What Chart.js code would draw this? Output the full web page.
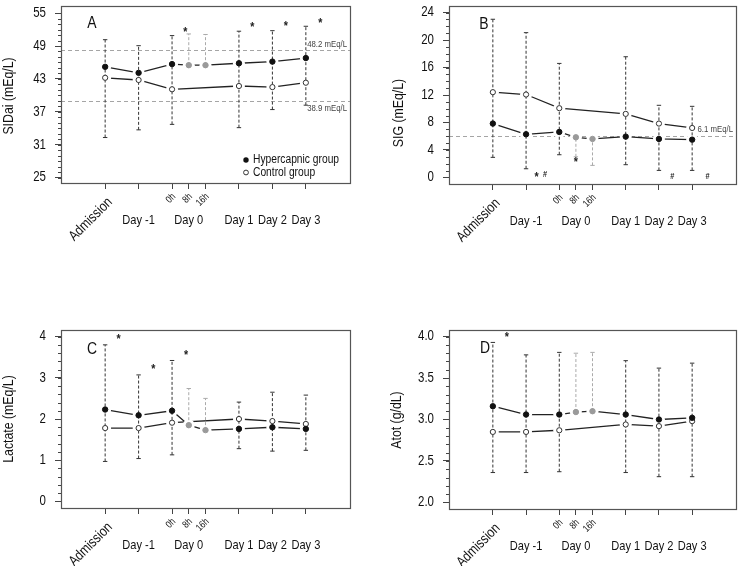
<!DOCTYPE html>
<html>
<head>
<meta charset="utf-8">
<script src="https://cdn.jsdelivr.net/npm/chart.js@4.4.1/dist/chart.umd.min.js"></script>
<style>
  html, body { margin: 0; padding: 0; background: #fff; }
  #wrap { position: relative; width: 742px; height: 566px; background: #fff; }
  #wrap canvas { position: absolute; }
</style>
</head>
<body>
<div id="wrap">
  <canvas id="cA" width="371" height="283" style="left:0;top:0;width:371px;height:283px"></canvas>
  <canvas id="cB" width="371" height="283" style="left:371px;top:0;width:371px;height:283px"></canvas>
  <canvas id="cC" width="371" height="283" style="left:0;top:283px;width:371px;height:283px"></canvas>
  <canvas id="cD" width="371" height="283" style="left:371px;top:283px;width:371px;height:283px"></canvas>
</div>
<script>
// ── time points (shared by all four panels) ──────────────────────────────
const timeX = [0, 1, 2, 2.5, 3, 4, 5, 6];
const dayLabels = ['Day -1', 'Day 0', 'Day 1', 'Day 2', 'Day 3'];
const dayLabelX = [1, 2.5, 4, 5, 6];
const hourLabels = ['0h', '8h', '16h'];
const hourX = [2, 2.5, 3];
const grayIdx = [3, 4];          // 8h and 16h samples
const darkIdx = [0, 1, 2, 5, 6, 7];

// ── A: SIDai ─────────────────────────────────────────────────────────────
const hyperA = [45.2, 44.1, 45.7, 45.5, 45.5, 45.85, 46.15, 46.8];
const ctrlA  = [43.2, 42.8, 41.1, null, null, 41.7, 41.5, 42.3];
const lowA   = [32.3, 33.7, 34.7, 45.5, 45.5, 34.1, 37.4, 38.2];
const highA  = [50.15, 49.06, 50.9, 51.2, 51.1, 51.7, 51.8, 52.6];
const refA   = [48.2, 38.9];
const ticksA = [25, 31, 37, 43, 49, 55];
const starXA = [2.4, 4.4, 5.4, 6.43];
const starYA = [52.0, 52.9, 53.0, 53.5];

// ── B: SIG ───────────────────────────────────────────────────────────────
const hyperB = [7.84, 6.28, 6.62, 5.84, 5.6, 5.94, 5.6, 5.5];
const ctrlB  = [12.41, 12.07, 10.08, null, null, 9.25, 7.84, 7.2];
const lowB   = [2.92, 1.26, 3.3, 3.0, 1.75, 1.85, 1.02, 1.02];
const highB  = [23.03, 21.08, 16.6, 5.84, 5.6, 17.57, 10.5, 10.35];
const refB   = [6.1];
const ticksB = [0, 4, 8, 12, 16, 20, 24];
const starXB = [1.32, 2.5];
const starYB = [0.39, 2.55];
const hashXB = [1.57, 5.4, 6.46];
const hashYB = [0.39, 0.14, 0.14];

// ── C: Lactate ───────────────────────────────────────────────────────────
const hyperC = [2.23, 2.09, 2.2, 1.85, 1.73, 1.76, 1.8, 1.76];
const ctrlC  = [1.78, 1.78, 1.91, null, null, 2.0, 1.95, 1.88];
const lowC   = [0.97, 1.04, 1.13, 1.85, 1.73, 1.28, 1.22, 1.24];
const highC  = [3.8, 3.07, 3.42, 2.74, 2.5, 2.41, 2.65, 2.58];
const ticksC = [0, 1, 2, 3, 4];
const starXC = [0.4, 1.44, 2.42];
const starYC = [4.0, 3.26, 3.6];

// ── D: Atot ──────────────────────────────────────────────────────────────
const hyperD = [3.16, 3.06, 3.06, 3.09, 3.1, 3.06, 3.0, 3.02];
const ctrlD  = [2.85, 2.85, 2.87, null, null, 2.94, 2.92, 2.98];
const lowD   = [2.36, 2.36, 2.37, 3.09, 3.1, 2.36, 2.31, 2.31];
const highD  = [3.93, 3.78, 3.81, 3.8, 3.81, 3.71, 3.62, 3.68];
const ticksD = [2.0, 2.5, 3.0, 3.5, 4.0];
const starXD = [0.42];
const starYD = [4.02];

// no narrow face installed, so squeeze Liberation Sans to Arial Narrow width
const FONT = '"Liberation Sans", Arial, sans-serif';
const SQUEEZE = 0.82;
const INK = '#111';

function pts(vals) {
    return vals.map((v, i) => ({ x: timeX[i], y: v }));
}

function whiskerPts(lo, hi, idx) {
    const out = [];
    idx.forEach(i => {
        out.push({ x: timeX[i], y: lo[i] }, { x: timeX[i], y: hi[i] }, { x: timeX[i], y: null });
    });
    return out;
}

function narrowText(ctx, text, x, y, size, align, angle, weight) {
    ctx.save();
    ctx.translate(x, y);
    if (angle) ctx.rotate(angle);
    ctx.scale(SQUEEZE, 1);
    ctx.font = `${weight || ''} ${size}px ${FONT}`;
    ctx.textAlign = align || 'center';
    ctx.textBaseline = 'middle';
    ctx.fillText(text, 0, 0);
    ctx.restore();
}

function decoPlugin(cfg) {
    return {
        id: 'deco',
        beforeDatasetsDraw(chart) {
            const { ctx, chartArea: a, scales: { y } } = chart;
            ctx.save();
            ctx.strokeStyle = '#a5a5a5';
            ctx.lineWidth = 1;
            ctx.setLineDash([4, 3]);
            (cfg.refs || []).forEach(v => {
                const py = Math.round(y.getPixelForValue(v)) + 0.5;
                ctx.beginPath();
                ctx.moveTo(a.left, py);
                ctx.lineTo(a.right, py);
                ctx.stroke();
            });
            ctx.restore();
        },
        afterDraw(chart) {
            const { ctx, chartArea: a, scales: { x, y } } = chart;
            ctx.save();

            // box
            ctx.strokeStyle = '#555';
            ctx.lineWidth = 1.2;
            ctx.strokeRect(Math.round(a.left) + 0.5, Math.round(a.top) + 0.5,
                Math.round(a.right - a.left), Math.round(a.bottom - a.top));

            // minor y ticks
            ctx.strokeStyle = '#444';
            ctx.lineWidth = 1;
            const lo = cfg.ticks[0], hi = cfg.ticks[cfg.ticks.length - 1];
            for (let v = lo; v <= hi + 1e-9; v += cfg.minor) {
                const py = Math.round(y.getPixelForValue(v)) + 0.5;
                ctx.beginPath();
                ctx.moveTo(a.left - 3, py);
                ctx.lineTo(a.left, py);
                ctx.stroke();
            }

            ctx.fillStyle = INK;
            // y tick labels from the scale's own ticks
            y.ticks.forEach(t => {
                const s = cfg.decimals ? Number(t.value).toFixed(cfg.decimals) : String(t.value);
                narrowText(ctx, s, a.left - 15, y.getPixelForValue(t.value), 14, 'right');
            });

            const b = a.bottom;
            narrowText(ctx, 'Admission', x.getPixelForValue(0) + 5, b + 17, 14.5, 'right', -Math.PI / 4);
            hourLabels.forEach((t, i) =>
                narrowText(ctx, t, x.getPixelForValue(hourX[i]) + 2, b + 12, 10, 'right', -Math.PI / 4));
            dayLabels.forEach((t, i) =>
                narrowText(ctx, t, x.getPixelForValue(dayLabelX[i]), b + 37, 13.5, 'center'));

            narrowText(ctx, cfg.title, cfg.titlePos[0], cfg.titlePos[1], 15, 'center', -Math.PI / 2);
            narrowText(ctx, cfg.letter, cfg.letterPos[0], cfg.letterPos[1], 17, 'center');

            // reference labels
            ctx.fillStyle = '#444';
            (cfg.refs || []).forEach((v, i) => {
                const off = cfg.refSide[i] === 'above' ? -6.5 : 7.5;
                narrowText(ctx, cfg.refLabels[i], a.right - 3, y.getPixelForValue(v) + off, 9.5, 'right');
            });

            // significance marks
            ctx.fillStyle = '#222';
            (cfg.starX || []).forEach((sx, i) =>
                narrowText(ctx, '*', x.getPixelForValue(sx), y.getPixelForValue(cfg.starY[i]) + 2.5, 13, 'center', 0, 'bold'));
            (cfg.hashX || []).forEach((sx, i) =>
                narrowText(ctx, '#', x.getPixelForValue(sx), y.getPixelForValue(cfg.hashY[i]), 9, 'center', 0, 'bold'));

            // legend
            if (cfg.legend) {
                const [lx, ly] = cfg.legend;
                ctx.beginPath();
                ctx.arc(lx, ly, 2.7, 0, Math.PI * 2);
                ctx.fillStyle = '#111';
                ctx.fill();
                ctx.beginPath();
                ctx.arc(lx, ly + 12.5, 2.4, 0, Math.PI * 2);
                ctx.fillStyle = '#fff';
                ctx.fill();
                ctx.strokeStyle = '#333';
                ctx.lineWidth = 1;
                ctx.stroke();
                ctx.fillStyle = INK;
                narrowText(ctx, 'Hypercapnic group', lx + 7, ly, 12.5, 'left');
                narrowText(ctx, 'Control group', lx + 7, ly + 12.5, 12.5, 'left');
            }
            ctx.restore();
        }
    };
}

function makePanel(canvasId, cfg) {
    const W = 371, H = 283;
    const a = cfg.area;
    const dark = '#222';
    return new Chart(document.getElementById(canvasId), {
        type: 'line',
        data: {
            datasets: [
                { data: pts(cfg.hyper), borderColor: dark, borderWidth: 1.3, pointRadius: 0, spanGaps: true, order: 6 },
                { data: pts(cfg.ctrl), borderColor: dark, borderWidth: 1.3, pointRadius: 0, spanGaps: true, order: 6 },
                // white halos give the broken-line look around each point
                { data: pts(cfg.hyper), showLine: false, pointRadius: 6, pointBackgroundColor: '#fff', pointBorderColor: '#fff', pointBorderWidth: 0, order: 5 },
                { data: pts(cfg.ctrl), showLine: false, pointRadius: 6, pointBackgroundColor: '#fff', pointBorderColor: '#fff', pointBorderWidth: 0, order: 5 },
                {
                    data: whiskerPts(cfg.low, cfg.high, darkIdx), borderColor: '#333', borderWidth: 1, borderDash: [3, 2],
                    pointStyle: 'line', pointRadius: 2.2, pointBorderColor: '#333', pointBorderWidth: 1, spanGaps: false, order: 3
                },
                {
                    data: whiskerPts(cfg.low, cfg.high, grayIdx), borderColor: '#aaa', borderWidth: 1, borderDash: [3, 2],
                    pointStyle: 'line', pointRadius: 2.2, pointBorderColor: '#aaa', pointBorderWidth: 1, spanGaps: false, order: 3
                },
                {
                    data: pts(cfg.hyper), showLine: false, pointRadius: 2.7, pointBorderWidth: 1,
                    pointBackgroundColor: c => grayIdx.includes(c.dataIndex) ? '#9a9a9a' : '#111',
                    pointBorderColor: c => grayIdx.includes(c.dataIndex) ? '#9a9a9a' : '#111', order: 1
                },
                {
                    data: pts(cfg.ctrl), showLine: false, pointRadius: 2.6, pointBorderWidth: 1,
                    pointBackgroundColor: '#fff', pointBorderColor: '#333', order: 1
                }
            ]
        },
        options: {
            responsive: false,
            animation: false,
            devicePixelRatio: 1,
            events: [],
            layout: { padding: { left: 0, top: a.top, right: W - a.right, bottom: 0 } },
            plugins: { legend: { display: false }, tooltip: { enabled: false } },
            scales: {
                x: {
                    type: 'linear', min: -1.32, max: 7.32,
                    afterBuildTicks: s => { s.ticks = timeX.map(v => ({ value: v })); },
                    afterFit: s => { s.height = H - a.bottom; s.paddingLeft = 0; s.paddingRight = 0; },
                    grid: { drawOnChartArea: false, tickLength: 6, tickColor: '#444', color: '#444' },
                    border: { display: false },
                    ticks: { display: false }
                },
                y: {
                    type: 'linear', min: cfg.yMin, max: cfg.yMax,
                    afterBuildTicks: s => { s.ticks = cfg.ticks.map(v => ({ value: v })); },
                    afterFit: s => { s.width = a.left; s.paddingTop = 0; s.paddingBottom = 0; },
                    grid: { drawOnChartArea: false, tickLength: 6, tickColor: '#444', color: '#444' },
                    border: { display: false },
                    ticks: { display: false }
                }
            }
        },
        plugins: [decoPlugin(cfg)]
    });
}

makePanel('cA', {
    area: { left: 61, right: 350, top: 6, bottom: 183 }, yMin: 24.0, yMax: 56.3,
    hyper: hyperA, ctrl: ctrlA, low: lowA, high: highA, ticks: ticksA, minor: 1,
    refs: refA, refLabels: ['48.2 mEq/L', '38.9 mEq/L'], refSide: ['above', 'below'],
    starX: starXA, starY: starYA,
    title: 'SIDai (mEq/L)', titlePos: [9, 96], letter: 'A', letterPos: [92, 23],
    legend: [246, 160]
});

makePanel('cB', {
    area: { left: 78, right: 368, top: 6, bottom: 184 }, yMin: -0.96, yMax: 24.96,
    hyper: hyperB, ctrl: ctrlB, low: lowB, high: highB, ticks: ticksB, minor: 1,
    refs: refB, refLabels: ['6.1 mEq/L'], refSide: ['above'],
    starX: starXB, starY: starYB, hashX: hashXB, hashY: hashYB,
    title: 'SIG (mEq/L)', titlePos: [28, 113], letter: 'B', letterPos: [113, 24]
});

makePanel('cC', {
    area: { left: 61, right: 350, top: 47, bottom: 225 }, yMin: -0.16, yMax: 4.16,
    hyper: hyperC, ctrl: ctrlC, low: lowC, high: highC, ticks: ticksC, minor: 0.2,
    starX: starXC, starY: starYC,
    title: 'Lactate (mEq/L)', titlePos: [9, 136], letter: 'C', letterPos: [92, 66]
});

makePanel('cD', {
    area: { left: 78, right: 368, top: 47, bottom: 226 }, yMin: 1.92, yMax: 4.08,
    hyper: hyperD, ctrl: ctrlD, low: lowD, high: highD, ticks: ticksD, minor: 0.1, decimals: 1,
    starX: starXD, starY: starYD,
    title: 'Atot (g/dL)', titlePos: [26, 137], letter: 'D', letterPos: [114, 65]
});
</script>
</body>
</html>
